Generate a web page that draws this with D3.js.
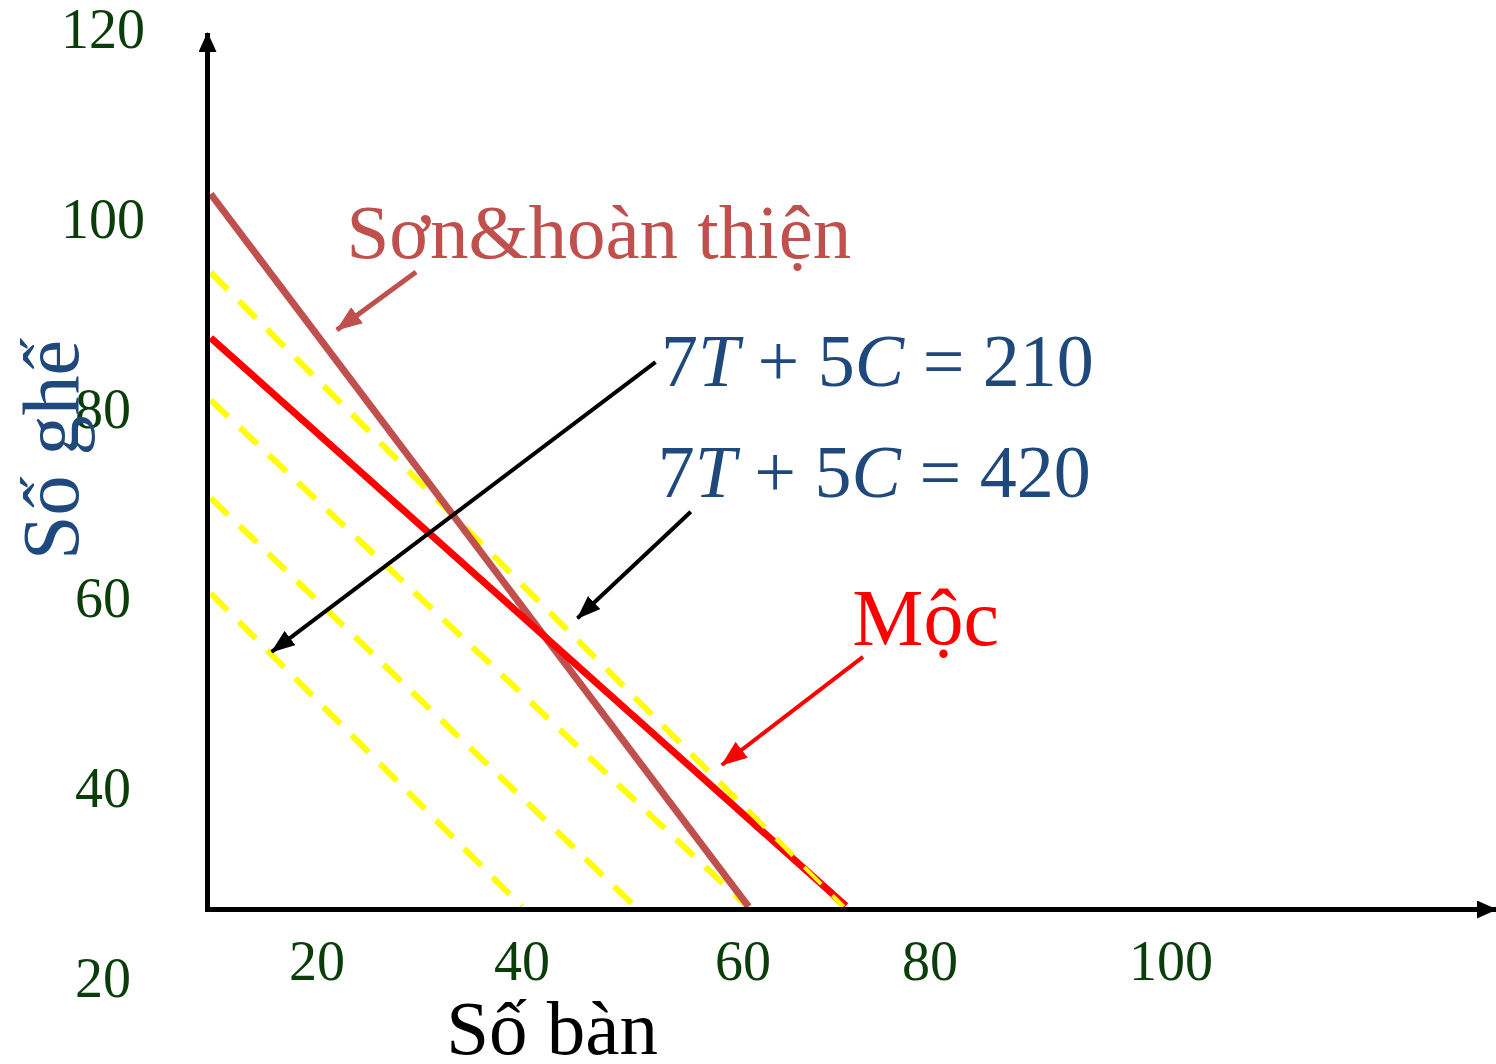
<!DOCTYPE html>
<html>
<head>
<meta charset="utf-8">
<script src="https://cdn.jsdelivr.net/npm/d3@7"></script>
<style>
  html, body { margin: 0; padding: 0; background: #fff; }
  svg { display: block; }
</style>
</head>
<body>
<svg id="chart" width="1496" height="1064"></svg>
<script>
// ---- Data (T = số bàn, C = số ghế) ----
const yTickLabels = [20, 40, 60, 80, 100, 120];
const xTickLabels = [20, 40, 60, 80, 100];

// constraint lines: [T, C] endpoints
const sonLine = [[0.3, 100.0], [50.6, 0.4]];
const mocLine = [[0.3, 79.9], [59.7, 0.5]];

// iso-profit dashed lines 7T + 5C = k
const isoLines = [
  [[0.3, 89.0], [59.5, 0.4]],
  [[0.3, 71.2], [50.5, 0.4]],
  [[0.3, 57.5], [40.0, 0.4]],
  [[0.3, 44.2], [29.4, 0.4]]
];

// annotations: text + arrow (from -> to), in data units
const annSon = { text: "Sơn&hoàn thiện", at: [13.0, 91.0], from: [19.5, 89.1], to: [12.1, 81.0] };
const ann210 = { at: [42.4, 73.2], from: [41.9, 76.5], to: [6.0, 36.0] };
const ann420 = { at: [42.1, 57.6], from: [45.2, 55.6], to: [34.6, 40.7] };
const annMoc = { text: "Mộc", at: [60.3, 37.0], from: [61.3, 35.3], to: [48.1, 20.2] };

const xTitle = "Số bàn";
const yTitle = "Số ghế";

// ---- Layout ----
const svg = d3.select("#chart");
const x = d3.scaleLinear().domain([0, 120.5]).range([207.5, 1496]);
const y = d3.scaleLinear().domain([0, 122.5]).range([909.5, 33]);

// label scales (labels are placed independently of the data axes on the slide)
const yLab = d3.scaleLinear().domain([20, 120]).range([997, 48]);
const xLab = d3.scaleLinear().domain([20, 40, 60, 80, 100]).range([317, 522, 743, 930, 1171]);

const serif = "'Liberation Serif', 'Times New Roman', serif";
const tickColor = "#0b3d0b";
const blue = "#1f497d";
const sonColor = "#c0504d";

// markers
const defs = svg.append("defs");
function marker(id, color, len, wid) {
  defs.append("marker")
    .attr("id", id)
    .attr("viewBox", `0 0 ${len} ${wid}`)
    .attr("refX", len - 1).attr("refY", wid / 2)
    .attr("markerUnits", "userSpaceOnUse")
    .attr("markerWidth", len).attr("markerHeight", wid)
    .attr("orient", "auto")
    .append("path")
    .attr("d", `M0,0 L${len},${wid / 2} L0,${wid} Z`)
    .attr("fill", color);
}
marker("axArrow", "#000", 20, 18);
marker("blkArrow", "#000", 24, 18);
marker("sonArrow", sonColor, 26, 20);
marker("redArrow", "#ff0000", 26, 20);

const line = d3.line().x(d => x(d[0])).y(d => y(d[1]));

// yellow dashed iso lines
svg.append("g").selectAll("path").data(isoLines).join("path")
  .attr("d", line)
  .attr("fill", "none")
  .attr("stroke", "#ffff00")
  .attr("stroke-width", 6)
  .attr("stroke-dasharray", "24 16");

// Sơn & hoàn thiện constraint
svg.append("path").datum(sonLine)
  .attr("d", line).attr("fill", "none")
  .attr("stroke", sonColor).attr("stroke-width", 7);

// Mộc constraint
svg.append("path").datum(mocLine)
  .attr("d", line).attr("fill", "none")
  .attr("stroke", "#ff0000").attr("stroke-width", 7);

// yellow over red where the 420 iso line lies on Mộc near the axis
defs.append("clipPath").attr("id", "clipLow")
  .append("rect").attr("x", x(46)).attr("y", y(16)).attr("width", x(62) - x(46)).attr("height", y(0) - y(16));
svg.append("path").datum(isoLines[0])
  .attr("d", line).attr("fill", "none")
  .attr("stroke", "#ffff00").attr("stroke-width", 4)
  .attr("stroke-dasharray", "24 16")
  .attr("clip-path", "url(#clipLow)");

// axes
svg.append("line")
  .attr("x1", x(0)).attr("y1", y(0)).attr("x2", x(0)).attr("y2", y(122.5))
  .attr("stroke", "#000").attr("stroke-width", 5)
  .attr("marker-end", "url(#axArrow)");
svg.append("line")
  .attr("x1", x(0) - 2.5).attr("y1", y(0)).attr("x2", x(120.5)).attr("y2", y(0))
  .attr("stroke", "#000").attr("stroke-width", 5)
  .attr("marker-end", "url(#axArrow)");

// tick labels
svg.append("g").selectAll("text").data(yTickLabels).join("text")
  .attr("x", 103).attr("y", d => yLab(d))
  .attr("text-anchor", "middle")
  .attr("font-family", serif).attr("font-size", 56)
  .attr("fill", tickColor)
  .text(d => d);
svg.append("g").selectAll("text").data(xTickLabels).join("text")
  .attr("x", d => xLab(d)).attr("y", 980)
  .attr("text-anchor", "middle")
  .attr("font-family", serif).attr("font-size", 56)
  .attr("fill", tickColor)
  .text(d => d);

// axis titles
svg.append("text")
  .attr("transform", "translate(78,450) rotate(-90)")
  .attr("text-anchor", "middle")
  .attr("font-family", serif).attr("font-size", 80)
  .attr("fill", blue)
  .text(yTitle);
svg.append("text")
  .attr("x", 552).attr("y", 1054)
  .attr("text-anchor", "middle")
  .attr("font-family", serif).attr("font-size", 77)
  .attr("fill", "#000")
  .text(xTitle);

// annotation arrows
function arrow(a, color, width, mk) {
  svg.append("line")
    .attr("x1", x(a.from[0])).attr("y1", y(a.from[1]))
    .attr("x2", x(a.to[0])).attr("y2", y(a.to[1]))
    .attr("stroke", color).attr("stroke-width", width)
    .attr("marker-end", `url(#${mk})`);
}
arrow(annSon, sonColor, 5, "sonArrow");
arrow(ann210, "#000", 4, "blkArrow");
arrow(ann420, "#000", 4, "blkArrow");
arrow(annMoc, "#ff0000", 4, "redArrow");

// annotation texts
svg.append("text")
  .attr("x", x(annSon.at[0])).attr("y", y(annSon.at[1]))
  .attr("font-family", serif).attr("font-size", 77)
  .attr("fill", sonColor).text(annSon.text);

function eqText(a, k) {
  const t = svg.append("text")
    .attr("x", x(a.at[0])).attr("y", y(a.at[1]))
    .attr("font-family", serif).attr("font-size", 74)
    .attr("fill", blue);
  t.append("tspan").text("7");
  t.append("tspan").attr("font-style", "italic").text("T");
  t.append("tspan").text(" + 5");
  t.append("tspan").attr("font-style", "italic").text("C");
  t.append("tspan").text(" = " + k);
}
eqText(ann210, 210);
eqText(ann420, 420);

svg.append("text")
  .attr("x", x(annMoc.at[0])).attr("y", y(annMoc.at[1]))
  .attr("font-family", serif).attr("font-size", 80)
  .attr("fill", "#ff0000").text(annMoc.text);
</script>
</body>
</html>
